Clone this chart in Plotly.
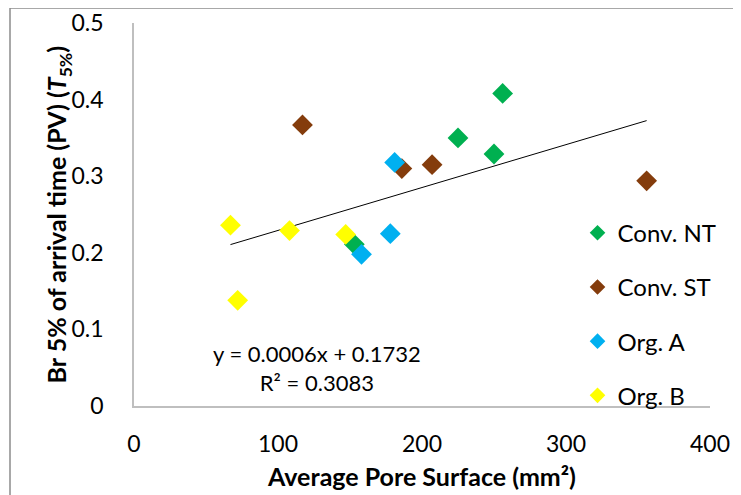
import plotly.graph_objects as go

# values
conv_nt_x = [256, 225, 250, 153]
conv_nt_y = [0.408, 0.350, 0.329, 0.211]
conv_st_x = [117, 186, 207, 356]
conv_st_y = [0.367, 0.310, 0.315, 0.294]
org_a_x = [181, 178, 158]
org_a_y = [0.318, 0.225, 0.198]
org_b_x = [67, 108, 147, 72]
org_b_y = [0.236, 0.229, 0.224, 0.138]

# trendline as reported on the chart (slope unrounded a bit)
trend_slope = 0.00056
trend_intercept = 0.1732

series = [
    ("Conv. NT", conv_nt_x, conv_nt_y, "#00B050"),
    ("Conv. ST", conv_st_x, conv_st_y, "#843C0C"),
    ("Org. A", org_a_x, org_a_y, "#00B0F0"),
    ("Org. B", org_b_x, org_b_y, "#FFFF00"),
]

FONT = "Lato"

fig = go.Figure()

all_x = conv_nt_x + conv_st_x + org_a_x + org_b_x
tx = [min(all_x), max(all_x)]
fig.add_trace(go.Scatter(x=tx, y=[trend_slope * v + trend_intercept for v in tx],
                         mode="lines", line=dict(color="black", width=1),
                         showlegend=False, hoverinfo="skip"))

for name, xs, ys, col in series:
    fig.add_trace(go.Scatter(
        x=xs, y=ys, mode="markers", name=name, legendgroup=name,
        marker=dict(symbol="diamond", size=16, color=col, line=dict(width=0)),
    ))

fig.add_annotation(x=0.318, y=0.10, xref="paper", yref="paper",
                   xanchor="center", yanchor="middle",
                   text="y = 0.0006x + 0.1732<br>R² = 0.3083", showarrow=False,
                   font=dict(family=FONT, size=22, color="black"), align="center")

# y axis title
fig.add_annotation(x=-0.132, y=0.5, xref="paper", yref="paper",
                   xanchor="center", yanchor="middle", textangle=-90,
                   text="<b>Br 5% of arrival time (PV) (<i>T</i><sub>5%</sub>)</b>",
                   showarrow=False, font=dict(family=FONT, size=25, color="black"))

# chart-area border (top/left visible in the reference)
fig.add_shape(type="rect", xref="paper", yref="paper",
              x0=-124 / 576, x1=1.2, y0=-0.5, y1=398 / 383,
              line=dict(color="#8c8c8c", width=1.5), layer="below")

fig.update_layout(
    width=741, height=495,
    margin=dict(l=126, r=39, t=15, b=97),
    plot_bgcolor="white", paper_bgcolor="white",
    font=dict(family=FONT, size=23, color="black"),
    showlegend=True,
    legend=dict(x=0.77, y=0.51, xanchor="left", yanchor="top",
                traceorder="grouped", tracegroupgap=20,
                font=dict(family=FONT, size=24, color="black"),
                bgcolor="rgba(0,0,0,0)", itemsizing="constant", itemwidth=30),
    xaxis=dict(range=[0, 400], dtick=100, showgrid=False, zeroline=False,
               showline=True, linecolor="#bfbfbf", linewidth=1.5,
               ticks="", automargin=False, ticklabelstandoff=17,
               tickfont=dict(size=23),
               title=dict(text="<b>Average Pore Surface (mm²)</b>",
                          font=dict(family=FONT, size=25), standoff=12)),
    yaxis=dict(range=[0, 0.5], dtick=0.1, showgrid=False, zeroline=False,
               showline=True, linecolor="#bfbfbf", linewidth=1.5,
               ticks="outside", ticklen=24, tickcolor="rgba(0,0,0,0)",
               tickformat="~g", automargin=False,
               tickfont=dict(size=23)),
)

fig.write_html("out.html")
